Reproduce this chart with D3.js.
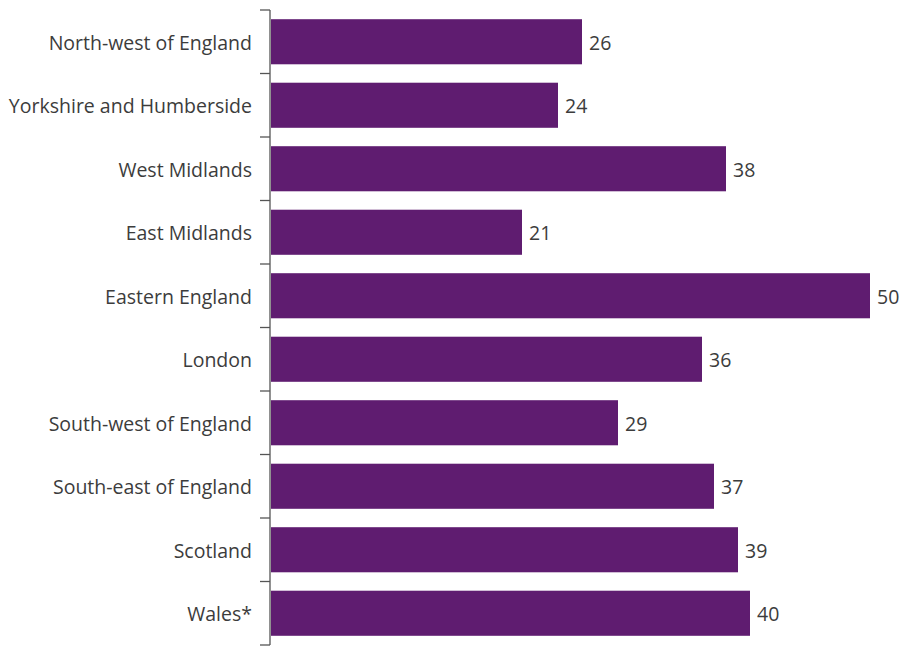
<!DOCTYPE html>
<html>
<head>
<meta charset="utf-8">
<script src="https://cdn.jsdelivr.net/npm/d3@7"></script>
<style>
  body { margin: 0; background: #fff; }
  text { font-family: "Open Sans", Lato, sans-serif; }
</style>
</head>
<body>
<svg id="chart" width="901" height="648"></svg>
<script>
const regions = [
  "North-west of England",
  "Yorkshire and Humberside",
  "West Midlands",
  "East Midlands",
  "Eastern England",
  "London",
  "South-west of England",
  "South-east of England",
  "Scotland",
  "Wales*"
];
const values = [26, 24, 38, 21, 50, 36, 29, 37, 39, 40];

const svg = d3.select("#chart");
const plotLeft = 270, plotTop = 10, plotBottom = 645;

const x = d3.scaleLinear().domain([0, 50]).range([plotLeft, 870]);

// Band per region; ticks mark the band boundaries on the spine
const y = d3.scaleBand()
  .domain(regions)
  .range([plotTop, plotBottom])
  .paddingInner(0.29)
  .paddingOuter(0.145);

const boundaries = regions.map(r => y(r) - y.step() * y.paddingInner() / 2);
boundaries.push(plotBottom);
boundaries[0] = plotTop;

svg.append("line")
  .attr("x1", plotLeft).attr("x2", plotLeft)
  .attr("y1", plotTop).attr("y2", plotBottom)
  .attr("stroke", "#555").attr("stroke-width", 1.3);

svg.selectAll("line.tick").data(boundaries).join("line")
  .attr("class", "tick")
  .attr("x1", plotLeft - 10).attr("x2", plotLeft)
  .attr("y1", d => d).attr("y2", d => d)
  .attr("stroke", "#555").attr("stroke-width", 1.3);

svg.selectAll("rect.bar").data(values).join("rect")
  .attr("class", "bar")
  .attr("x", plotLeft + 1)
  .attr("y", (d, i) => y(regions[i]))
  .attr("width", d => x(d) - plotLeft - 1)
  .attr("height", y.bandwidth())
  .attr("fill", "#5f1c70");

svg.selectAll("text.value").data(values).join("text")
  .attr("class", "value")
  .attr("x", d => x(d) + 7)
  .attr("y", (d, i) => y(regions[i]) + y.bandwidth() / 2)
  .attr("dy", "0.4em")
  .attr("font-size", 19.5)
  .attr("fill", "#3c3c3c")
  .text(d => d);

svg.selectAll("text.cat").data(regions).join("text")
  .attr("class", "cat")
  .attr("x", 252)
  .attr("y", (d, i) => y(regions[i]) + y.bandwidth() / 2)
  .attr("dy", "0.4em")
  .attr("text-anchor", "end")
  .attr("font-size", 19.5)
  .attr("fill", "#3c3c3c")
  .text(d => d);
</script>
</body>
</html>
